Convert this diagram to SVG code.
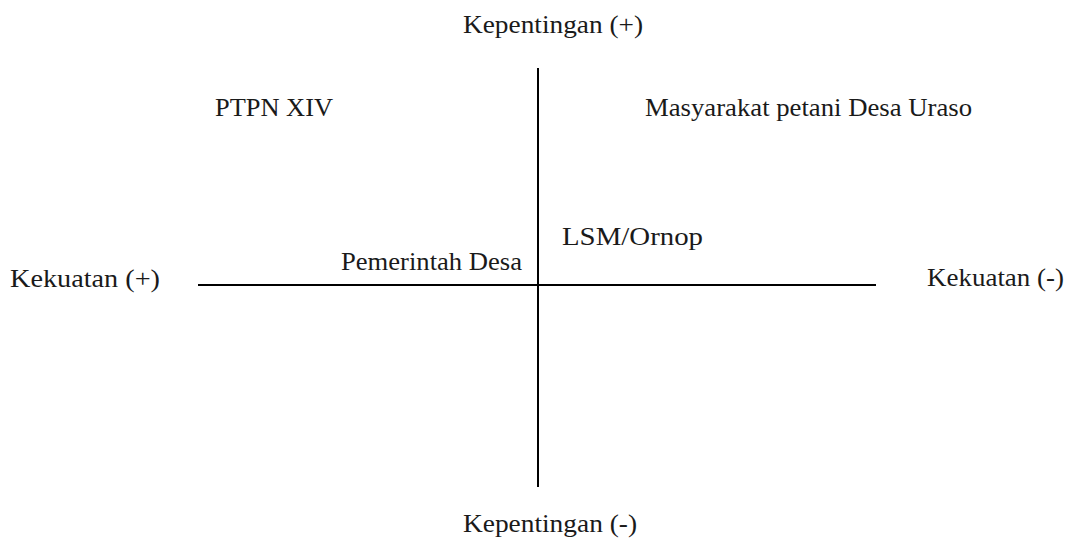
<svg xmlns="http://www.w3.org/2000/svg" width="1068" height="542" viewBox="0 0 1068 542">
<style>
text{font-family:"Liberation Serif","DejaVu Serif",serif;font-size:25px;fill:#1a1a1a}
.ax{stroke:#000;stroke-width:2;fill:none}
</style>
<rect width="1068" height="542" fill="#fff"/>
<g id="connectors">
<line class="ax" x1="538" y1="68" x2="538" y2="487"/>
<line class="ax" x1="198" y1="285" x2="876" y2="285"/>
</g>
<g id="axis-top"><text x="463" y="33" textLength="180" lengthAdjust="spacingAndGlyphs">Kepentingan (+)</text></g>
<g id="axis-bottom"><text x="463" y="532" textLength="174" lengthAdjust="spacingAndGlyphs">Kepentingan (-)</text></g>
<g id="axis-left"><text x="10" y="287" textLength="150" lengthAdjust="spacingAndGlyphs">Kekuatan (+)</text></g>
<g id="axis-right"><text x="927" y="286" textLength="137" lengthAdjust="spacingAndGlyphs">Kekuatan (-)</text></g>
<g id="ptpn"><text x="215" y="116" textLength="118" lengthAdjust="spacingAndGlyphs">PTPN XIV</text></g>
<g id="masyarakat"><text x="645" y="116" textLength="327" lengthAdjust="spacingAndGlyphs">Masyarakat petani Desa Uraso</text></g>
<g id="pemerintah"><text x="341" y="270" textLength="181" lengthAdjust="spacingAndGlyphs">Pemerintah Desa</text></g>
<g id="lsm"><text x="562" y="245" textLength="141" lengthAdjust="spacingAndGlyphs">LSM/Ornop</text></g>
</svg>
